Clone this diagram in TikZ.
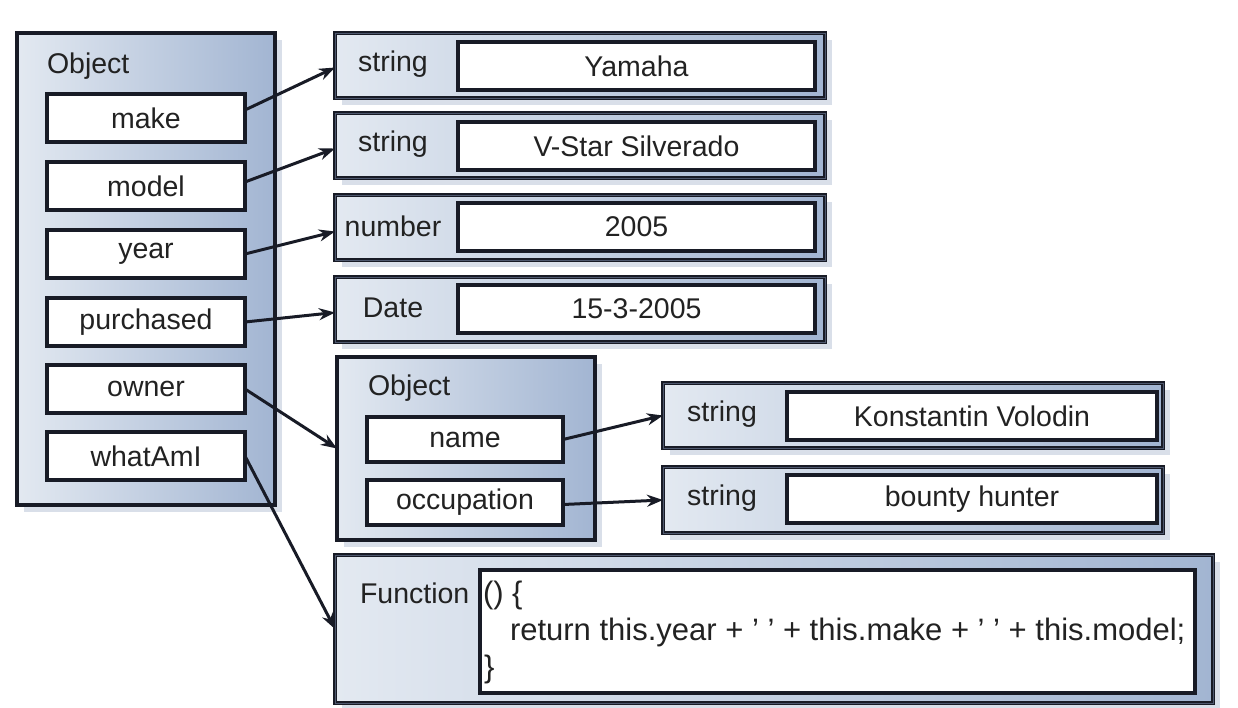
\documentclass[tikz,border=0pt]{standalone}
\usepackage{fontspec}
\setmainfont{Liberation Sans}
\usetikzlibrary{arrows.meta,shadows}
\definecolor{bdr}{HTML}{181B26}
\definecolor{shL}{HTML}{E3E9F1}
\definecolor{shR}{HTML}{A2B5D2}
\definecolor{shd}{HTML}{D5DCE7}
\definecolor{txt}{HTML}{222222}
\definecolor{dbl}{HTML}{4E586E}
\begin{document}
\begin{tikzpicture}[x=1pt,y=-1pt,
  every node/.style={font=\fontsize{28.5}{33}\selectfont, text=txt, inner sep=0pt, outer sep=0pt},
  codefont/.style={font=\fontsize{31}{36}\selectfont},
  panel/.style={draw=bdr, line width=3.2pt, left color=shL, right color=shR, anchor=north west,
    drop shadow={shadow xshift=7pt, shadow yshift=-7pt, fill=shd, opacity=0.9}},
  typerow/.style={draw=bdr, line width=1.8pt, double=dbl, double distance=1pt, left color=shL, right color=shR,
    anchor=north west, minimum width=490pt, minimum height=65pt,
    drop shadow={shadow xshift=7pt, shadow yshift=-7pt, fill=shd, opacity=0.9}},
  field/.style={draw=bdr, line width=3.2pt, fill=white, anchor=north west, minimum width=198pt, minimum height=48pt},
  valbox/.style={draw=bdr, line width=3.2pt, fill=white, anchor=north west, minimum width=357pt, minimum height=48pt},
  lbl/.style={anchor=center},
  arr/.style={-{Stealth[length=16pt,width=12pt]}, line width=3pt, draw=bdr},
]
\useasboundingbox (0,0) rectangle (1238,707);
\fill[white] (0,0) rectangle (1238,707);

% main object
\node[panel, minimum width=258pt, minimum height=472pt] (obj) at (17,33) {};
\node[anchor=base west] (objl) at (47,73) {Object};
\node[field] (make) at (47,94) {make};
\node[field] (model) at (47,162) {model};
\node[field] (year) at (47,230) {year};
\node[field] (purch) at (47,298) {purchased};
\node[field] (owner) at (47,365) {owner};
\node[field] (what) at (47,432) {whatAmI};

% type rows
\node[typerow] (r1) at (335,33) {};
\node[valbox] (v1) at (458,42) {Yamaha};
\node[lbl] (t1) at (393,64) {string};
\node[typerow] (r2) at (335,113) {};
\node[valbox] (v2) at (458,122) {V-Star Silverado};
\node[lbl] (t2) at (393,144) {string};
\node[typerow] (r3) at (335,195) {};
\node[valbox] (v3) at (458,203) {2005};
\node[lbl] (t3) at (393,226) {number};
\node[typerow] (r4) at (335,277) {};
\node[valbox] (v4) at (458,285) {15-3-2005};
\node[lbl] (t4) at (393,308) {Date};

% owner object
\node[panel, minimum width=258pt, minimum height=183pt] (own) at (337,357) {};
\node[anchor=base west] (ownl) at (368,395) {Object};
\node[field, minimum width=196pt, minimum height=45pt] (name) at (367,417) {name};
\node[field, minimum width=196pt, minimum height=45pt] (occ) at (367,480) {occupation};

\node[typerow, minimum width=500pt] (r5) at (663,383) {};
\node[valbox, minimum width=370pt] (v5) at (787,392) {Konstantin Volodin};
\node[lbl] (t5) at (722,414) {string};
\node[typerow, minimum width=500pt, minimum height=66pt] (r6) at (663,467) {};
\node[valbox, minimum width=370pt] (v6) at (787,475) {bounty hunter};
\node[lbl] (t6) at (722,498) {string};

% function
\node[typerow, minimum width=878pt, minimum height=148pt] (fn) at (335,555) {};
\node[draw=bdr, line width=3.2pt, fill=white, anchor=north west, minimum width=715pt, minimum height=123pt] (code) at (480,570) {};
\node[anchor=base west] (fnl) at (360,603) {Function};
\node[anchor=base west, codefont] (c1) at (483,603) {() \{};
\node[anchor=base west, codefont] (c2) at (510,640) {return this.year + ' ' + this.make + ' ' + this.model;};
\node[anchor=base west, codefont] (c3) at (484,677) {\}};

% arrows
\draw[arr] ([yshift=8pt]make.east) -- ([yshift=-2pt]r1.west);
\draw[arr] ([yshift=4pt]model.east) -- ([yshift=-3pt]r2.west);
\draw[arr] (year.east) -- ([yshift=-4pt]r3.west);
\draw[arr] (purch.east) -- ([yshift=-3pt]r4.west);
\draw[arr] (owner.east) -- (own.west);
\draw[arr] (what.east) -- (fn.west);
\draw[arr] (name.east) -- (r5.west);
\draw[arr] ([yshift=-2pt]occ.east) -- (r6.west);
\end{tikzpicture}
\end{document}
